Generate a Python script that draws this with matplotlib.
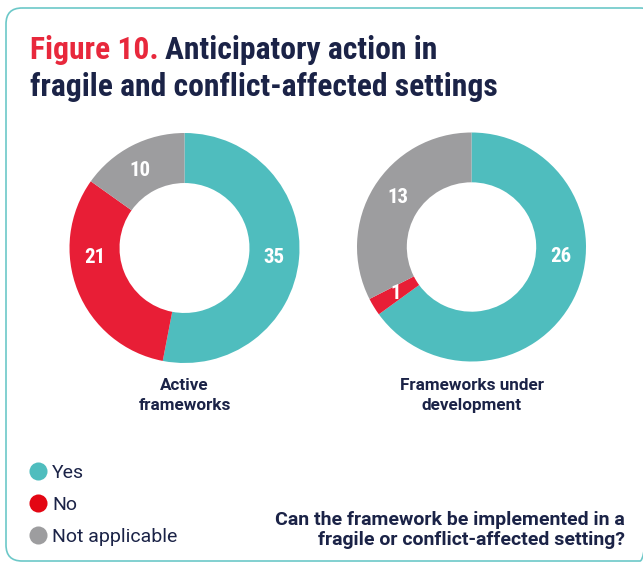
import matplotlib
matplotlib.use('Agg')
import numpy as np
import matplotlib.pyplot as plt
from matplotlib.patches import FancyBboxPatch
from matplotlib.lines import Line2D

# data
categories = ['Yes', 'No', 'Not applicable']
active = [35, 21, 10]
under_dev = [26, 1, 13]
chart_names = ['Active\nframeworks', 'Frameworks under\ndevelopment']

colors = ['#4fbdbe', '#e81e36', '#9d9d9f']
legend_colors = ['#4fbdbe', '#e30613', '#9d9d9f']
navy = '#1b2347'
red = '#e8283c'
teal_border = '#6cc8c8'

plt.rcParams['font.family'] = ['Roboto', 'DejaVu Sans']
cond = ['Roboto Condensed', 'Roboto', 'DejaVu Sans']

W, H = 643, 563
fig = plt.figure(figsize=(W / 100, H / 100), dpi=100)

# overlay axes in pixel coordinates for border and texts
bg = fig.add_axes([0, 0, 1, 1])
bg.set_xlim(0, W)
bg.set_ylim(H, 0)
bg.axis('off')

border = FancyBboxPatch((6, 8), 650, 553, boxstyle='round,pad=0,rounding_size=16',
                        fill=False, edgecolor=teal_border, linewidth=1.2)
bg.add_patch(border)

# title
t1 = bg.text(30, 59, 'Figure 10.', color=red, fontsize=22.8, fontweight='bold',
             va='baseline', ha='left', family=cond)
fig.canvas.draw()
bb = t1.get_window_extent()
x_end = bb.x1 + 6
bg.text(x_end, 59, 'Anticipatory action in', color=navy, fontsize=22.8,
        fontweight='bold', va='baseline', ha='left', family=cond)
bg.text(30, 96, 'fragile and conflict-affected settings', color=navy,
        fontsize=22.8, fontweight='bold', va='baseline', ha='left', family=cond)


def donut(values, cx, cy, r, name, label_angles):
    ax = fig.add_axes([(cx - r) / W, 1 - (cy + r) / H, 2 * r / W, 2 * r / H])
    ax.pie(values, colors=colors, startangle=90, counterclock=False,
           wedgeprops=dict(width=0.435, linewidth=0))
    ax.set_xlim(-1, 1)
    ax.set_ylim(-1, 1)
    for v, a in zip(values, label_angles):
        t = np.deg2rad(a)
        ax.text(0.78 * np.sin(t), 0.78 * np.cos(t), str(v), ha='center',
                va='center', color='white', fontsize=15, fontweight='bold',
                family=cond)
    bg.text(cx, 378, name, ha='center', va='top', color=navy, fontsize=12.3,
            fontweight='bold', linespacing=1.4)


# label angles clockwise from 12 o'clock, as placed in the original
donut(active, 184.5, 248, 115, chart_names[0], [96, 264, 330])
donut(under_dev, 471.5, 247, 114.5, chart_names[1], [96, 238.5, 304])

handles = [Line2D([], [], marker='o', linestyle='none', markersize=13,
                  markerfacecolor=c, markeredgecolor='none') for c in legend_colors]
fig.legend(handles, categories, loc='upper left', bbox_to_anchor=(29 / W, 1 - 464 / H),
           frameon=False, fontsize=14, handlelength=0.9, handletextpad=0.3,
           labelspacing=0.72, borderpad=0, borderaxespad=0, labelcolor=navy)

bg.text(625, 545, 'Can the framework be implemented in a\nfragile or conflict-affected setting?',
        ha='right', va='baseline', color=navy, fontsize=14, fontweight='bold',
        linespacing=1.15)

fig.savefig('out.png', dpi=100)
